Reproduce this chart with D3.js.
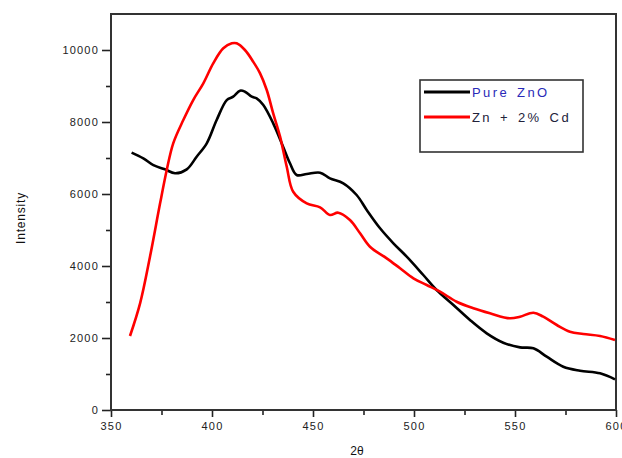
<!DOCTYPE html>
<html>
<head>
<meta charset="utf-8">
<script src="https://cdn.jsdelivr.net/npm/d3@7"></script>
<style>
  body { margin: 0; background: #fff; }
  text { font-family: "Liberation Sans", Arial, sans-serif; }
</style>
</head>
<body>
<div id="chart"></div>
<script>
// values
const pureX = [360.2, 366, 371, 376.7, 381.7, 387.5, 392.4, 397.4, 402.3, 407.3, 410.5, 413.9, 416.3, 419.7, 422.1, 425.4, 430.3, 435.3, 438.6, 441.9, 446.9, 453.5, 458.4, 465, 471.6, 476.6, 483.2, 489.8, 496.4, 504.6, 511.2, 519.5, 527.7, 536, 544.2, 552.5, 559.1, 565.7, 573.9, 582.2, 592.1, 599.5]
const pureY = [7150, 6990, 6800, 6685, 6575, 6685, 7036, 7408, 8055, 8610, 8703, 8870, 8842, 8703, 8658, 8472, 7963, 7300, 6853, 6528, 6555, 6592, 6436, 6297, 5972, 5556, 5047, 4630, 4258, 3750, 3333, 2917, 2500, 2130, 1870, 1740, 1713, 1480, 1203, 1092, 1019, 852]

const cdX = [359.4, 364.4, 369.3, 374.3, 377.6, 380.8, 385.8, 390.7, 395.7, 400.6, 405.6, 409.8, 412.2, 416.3, 420.4, 423.8, 427.1, 430.3, 433.7, 437, 440.2, 446.9, 453.5, 458.4, 462.5, 468.3, 473.3, 478.2, 486.5, 493.1, 499.7, 506.3, 512.9, 521.1, 529.4, 537.6, 547.5, 552.5, 559.1, 564, 570.7, 577.2, 583.8, 592.1, 599.5]
const cdY = [2055, 2963, 4258, 5741, 6667, 7408, 8055, 8611, 9075, 9630, 10047, 10186, 10186, 10000, 9675, 9352, 8889, 8241, 7592, 6758, 6064, 5741, 5630, 5416, 5481, 5277, 4908, 4536, 4213, 3936, 3658, 3472, 3286, 3008, 2825, 2686, 2547, 2592, 2703, 2592, 2361, 2175, 2111, 2055, 1944]

const xTicks = [350, 400, 450, 500, 550, 600]
const yTicks = [0, 2000, 4000, 6000, 8000, 10000]
const seriesNames = ["Pure ZnO", "Zn + 2% Cd"]
const seriesColors = ["#000000", "#ff0000"]

const WIDTH = 622
const HEIGHT = 458
const margin = {top: 14, right: 6, bottom: 48, left: 111}
const innerW = WIDTH - margin.left - margin.right
const innerH = HEIGHT - margin.top - margin.bottom

const svg = d3.select("#chart")
  .append("svg")
  .attr("width", WIDTH)
  .attr("height", HEIGHT)

const g = svg.append("g")
  .attr("transform", `translate(${margin.left},${margin.top})`)

const x = d3.scaleLinear().domain([350, 600]).range([0, innerW])
const y = d3.scaleLinear().domain([0, 11000]).range([innerH, 0])

// minor ticks first, then the labelled ones on top
g.append("g")
  .attr("transform", `translate(0,${innerH})`)
  .call(d3.axisBottom(x).tickValues(d3.range(375, 600, 50)).tickSize(5).tickFormat(""))
g.append("g")
  .call(d3.axisLeft(y).tickValues(d3.range(1000, 11000, 2000)).tickSize(5).tickFormat(""))

const xAxis = g.append("g")
  .attr("transform", `translate(0,${innerH})`)
  .call(d3.axisBottom(x).tickValues(xTicks).tickSize(7).tickPadding(5).tickFormat(d3.format("d")))
const yAxis = g.append("g")
  .call(d3.axisLeft(y).tickValues(yTicks).tickSize(9).tickPadding(3).tickFormat(d3.format("d")))

g.selectAll(".domain").remove()
g.selectAll(".tick line").attr("stroke", "#222").attr("stroke-width", 1.6)
g.selectAll(".tick text")
  .attr("fill", "#222")
  .style("font-size", "11px")
  .style("letter-spacing", "1.2px")

// plot frame
g.append("rect")
  .attr("width", innerW)
  .attr("height", innerH)
  .attr("fill", "none")
  .attr("stroke", "#333")
  .attr("stroke-width", 2)

const line = d3.line()
  .x(d => x(d[0]))
  .y(d => y(d[1]))
  .curve(d3.curveCatmullRom)

g.append("path")
  .datum(d3.zip(pureX, pureY))
  .attr("fill", "none")
  .attr("stroke", seriesColors[0])
  .attr("stroke-width", 2.6)
  .attr("d", line)

g.append("path")
  .datum(d3.zip(cdX, cdY))
  .attr("fill", "none")
  .attr("stroke", seriesColors[1])
  .attr("stroke-width", 2.6)
  .attr("d", line)

// legend
const legend = svg.append("g").attr("transform", "translate(420,80)")
legend.append("rect")
  .attr("width", 163)
  .attr("height", 72)
  .attr("fill", "#fff")
  .attr("stroke", "#333")
  .attr("stroke-width", 1.6)

const textColors = ["#2a2ab8", "#22223a"]
seriesNames.forEach((name, i) => {
  const yy = 12 + i * 25
  legend.append("line")
    .attr("x1", 4).attr("x2", 50)
    .attr("y1", yy).attr("y2", yy)
    .attr("stroke", seriesColors[i])
    .attr("stroke-width", 3)
  legend.append("text")
    .attr("x", 52)
    .attr("y", yy + 5)
    .attr("fill", textColors[i])
    .style("font-size", "13px")
    .style("letter-spacing", "2.4px")
    .style("word-spacing", "2px")
    .text(name)
})

// axis titles
svg.append("text")
  .attr("transform", "translate(25,218) rotate(-90)")
  .attr("text-anchor", "middle")
  .attr("fill", "#111")
  .style("font-size", "12px")
  .style("letter-spacing", "0.8px")
  .text("Intensity")

svg.append("text")
  .attr("x", 357)
  .attr("y", 455)
  .attr("text-anchor", "middle")
  .attr("fill", "#111")
  .style("font-size", "12px")
  .text("2θ")
</script>
</body>
</html>
